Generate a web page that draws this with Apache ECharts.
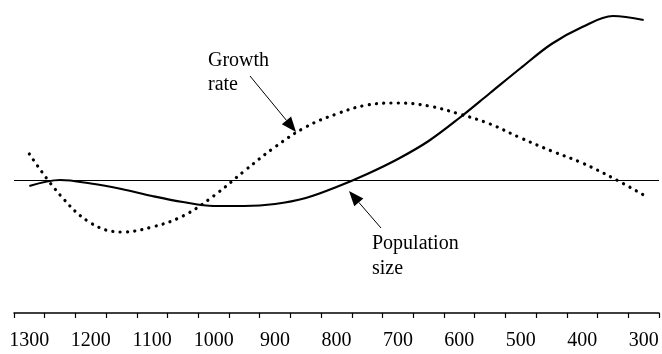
<!DOCTYPE html>
<html>
<head>
<meta charset="utf-8">
<script src="https://cdn.jsdelivr.net/npm/echarts@6/dist/echarts.min.js"></script>
<style>
  html, body { margin: 0; padding: 0; background: #fff; }
  #chart { width: 662px; height: 354px; }
</style>
</head>
<body>
<div id="chart"></div>
<script>
// x categories, 1300 down to 300 in steps of 50
var years = ['1300', '1250', '1200', '1150', '1100', '1050', '1000', '950', '900', '850', '800',
             '750', '700', '650', '600', '550', '500', '450', '400', '350', '300'];
// solid curve
var populationSize = [-0.6, 0, -0.35, -0.9, -1.6, -2.2, -2.6, -2.6, -2.4, -1.8, -0.7,
                      0.6, 2.1, 3.9, 6.2, 8.7, 11.2, 13.6, 15.3, 16.4, 16.0];
// dotted curve
var growthRate = [2.6, -1.5, -4.3, -5.2, -4.7, -3.6, -1.6, 0.9, 3.3, 5.3, 6.6,
                  7.5, 7.7, 7.4, 6.6, 5.6, 4.2, 2.9, 1.7, 0.2, -1.5];

var FONT = '"Liberation Serif", "Times New Roman", serif';

function arrow(x1, y1, x2, y2) {
    var dx = x2 - x1, dy = y2 - y1;
    var len = Math.sqrt(dx * dx + dy * dy);
    var ux = dx / len, uy = dy / len;
    var hl = 15, hw = 6;
    var bx = x2 - ux * hl, by = y2 - uy * hl;
    return [{
        type: 'line',
        shape: { x1: x1, y1: y1, x2: bx, y2: by },
        style: { stroke: '#000', lineWidth: 1 }
    }, {
        type: 'polygon',
        shape: { points: [[x2, y2], [bx - uy * hw, by + ux * hw], [bx + uy * hw, by - ux * hw]] },
        style: { fill: '#000' }
    }];
}

var chart = echarts.init(document.getElementById('chart'));
var graphics = [
    {
        type: 'text', left: 208, top: 49,
        style: { text: 'Growth\nrate', font: '20px ' + FONT, fill: '#000', lineHeight: 24 }
    },
    {
        type: 'text', left: 372, top: 231,
        style: { text: 'Population\nsize', font: '20px ' + FONT, fill: '#000', lineHeight: 25 }
    }
].concat(arrow(250, 76, 296, 132)).concat(arrow(381, 228, 349, 191));

chart.setOption({
    animation: false,
    backgroundColor: '#fff',
    grid: { left: 14, right: 3, top: 0, bottom: 41 },
    xAxis: {
        type: 'category',
        data: years,
        boundaryGap: true,
        axisLine: { show: true, onZero: false, lineStyle: { color: '#000', width: 1.5 } },
        axisTick: { show: true, interval: 0, length: 5, lineStyle: { color: '#000', width: 1.2 } },
        axisLabel: { interval: 1, color: '#000', fontFamily: FONT, fontSize: 20, margin: 18 },
        splitLine: { show: false }
    },
    yAxis: {
        type: 'value',
        min: -13.3,
        max: 18.0,
        show: false,
        splitLine: { show: false }
    },
    series: [
        {
            name: 'Population size',
            type: 'line',
            data: populationSize,
            smooth: 0.35,
            symbol: 'none',
            lineStyle: { color: '#000', width: 2.2 },
            markLine: {
                silent: true,
                symbol: 'none',
                label: { show: false },
                lineStyle: { color: '#000', width: 1, type: 'solid' },
                data: [{ yAxis: 0 }]
            }
        },
        {
            name: 'Growth rate',
            type: 'line',
            data: growthRate,
            smooth: 0.4,
            symbol: 'none',
            lineStyle: { color: '#000', width: 3.2, type: [0.1, 7.2], cap: 'round' }
        }
    ],
    graphic: graphics
});
</script>
</body>
</html>
